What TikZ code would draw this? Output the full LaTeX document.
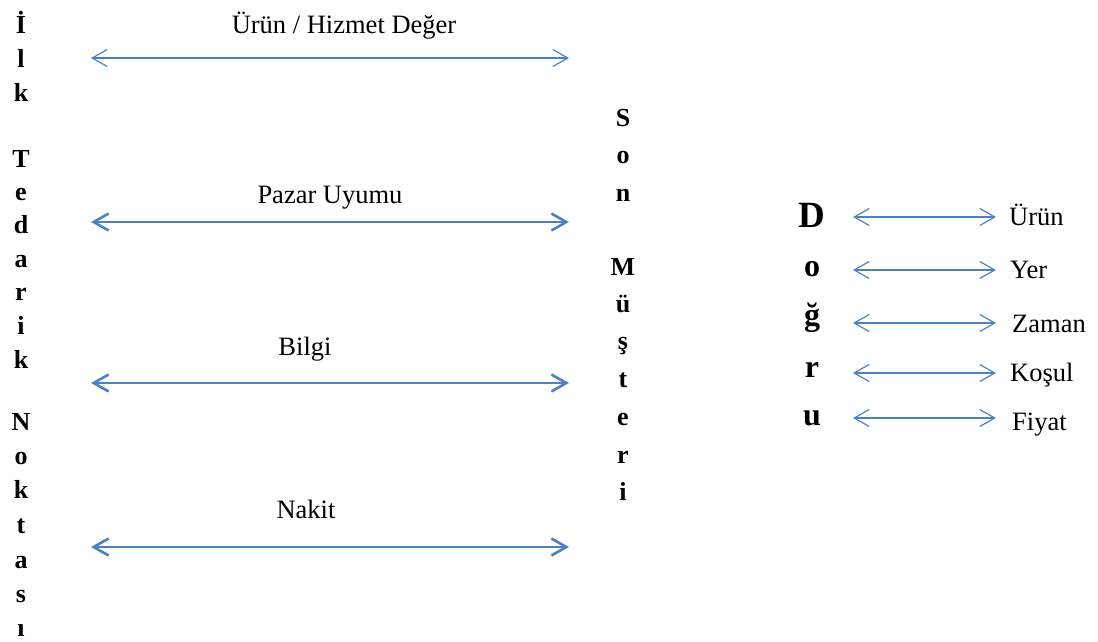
\documentclass[tikz,border=0pt]{standalone}
\usepackage{fontspec}
\setmainfont{Liberation Serif}
\usetikzlibrary{arrows.meta}
\definecolor{linkblue}{RGB}{79,129,189}
\tikzset{
  barb/.tip={Straight Barb[length=15pt,width=17pt]},
  flowthin/.style={draw=linkblue,line width=1.2pt,barb-barb},
  flowthick/.style={draw=linkblue,line width=2.6pt,barb-barb},
  stack/.style={font=\bfseries\fontsize{26}{26}\selectfont,anchor=base,inner sep=0pt},
  bigstack/.style={font=\bfseries\fontsize{32}{32}\selectfont,anchor=base,inner sep=0pt},
  flowtext/.style={font=\fontsize{26.5}{28}\selectfont,anchor=base,inner sep=0pt},
  sidetext/.style={font=\fontsize{26.5}{28}\selectfont,anchor=base west,inner sep=0pt},
}
\begin{document}
\begin{tikzpicture}[x=1pt,y=-1pt]
\useasboundingbox (0,0) rectangle (1098,641);

% left column: "Ilk Tedarik Noktasi", one letter per line
\foreach \c/\y [count=\i] in {İ/33,l/67,k/101,T/167,e/200,d/233,a/267,r/300,i/334,k/368,N/430,o/464,k/498,t/533,a/568,s/602,ı/636}
  \node[stack] (ilk\i) at (21,\y) {\c};

% middle column: "Son Musteri"
\foreach \c/\y [count=\i] in {S/126,o/163,n/201,M/275,ü/312,ş/349,t/387,e/425,r/463,i/500}
  \node[stack] (son\i) at (623,\y) {\c};

% right column: "Dogru"
\node[font=\bfseries\fontsize{37}{37}\selectfont,anchor=base,inner sep=0pt] (dog1) at (812,227) {D};
\foreach \c/\y [count=\i from 2] in {o/276,ğ/325,r/377,u/425}
  \node[bigstack] (dog\i) at (812,\y) {\c};

% flows between the two ends of the chain
\node[flowtext] (f1) at (344,33) {Ürün / Hizmet Değer};
\node[flowtext] (f2) at (330,203) {Pazar Uyumu};
\node[flowtext] (f3) at (305,355) {Bilgi};
\node[flowtext] (f4) at (306,518) {Nakit};

\coordinate (f1w) at (91,58);  \coordinate (f1e) at (569,58);
\coordinate (f2w) at (91,222); \coordinate (f2e) at (569,222);
\coordinate (f3w) at (91,383); \coordinate (f3e) at (569,383);
\coordinate (f4w) at (91,547); \coordinate (f4e) at (569,547);
\draw[flowthin]  (f1w) -- (f1e);
\draw[flowthick] (f2w) -- (f2e);
\draw[flowthick] (f3w) -- (f3e);
\draw[flowthick] (f4w) -- (f4e);

% the five "right" attributes
\node[sidetext] (r1) at (1009,225) {Ürün};
\node[sidetext] (r2) at (1010,278) {Yer};
\node[sidetext] (r3) at (1012,332) {Zaman};
\node[sidetext] (r4) at (1010,381) {Koşul};
\node[sidetext] (r5) at (1012,430) {Fiyat};

\foreach \y [count=\i] in {217,270,323,373,418} {
  \coordinate (d\i w) at (853,\y);
  \coordinate (d\i e) at (996,\y);
  \draw[flowthin] (d\i w) -- (d\i e);
}
\end{tikzpicture}
\end{document}
